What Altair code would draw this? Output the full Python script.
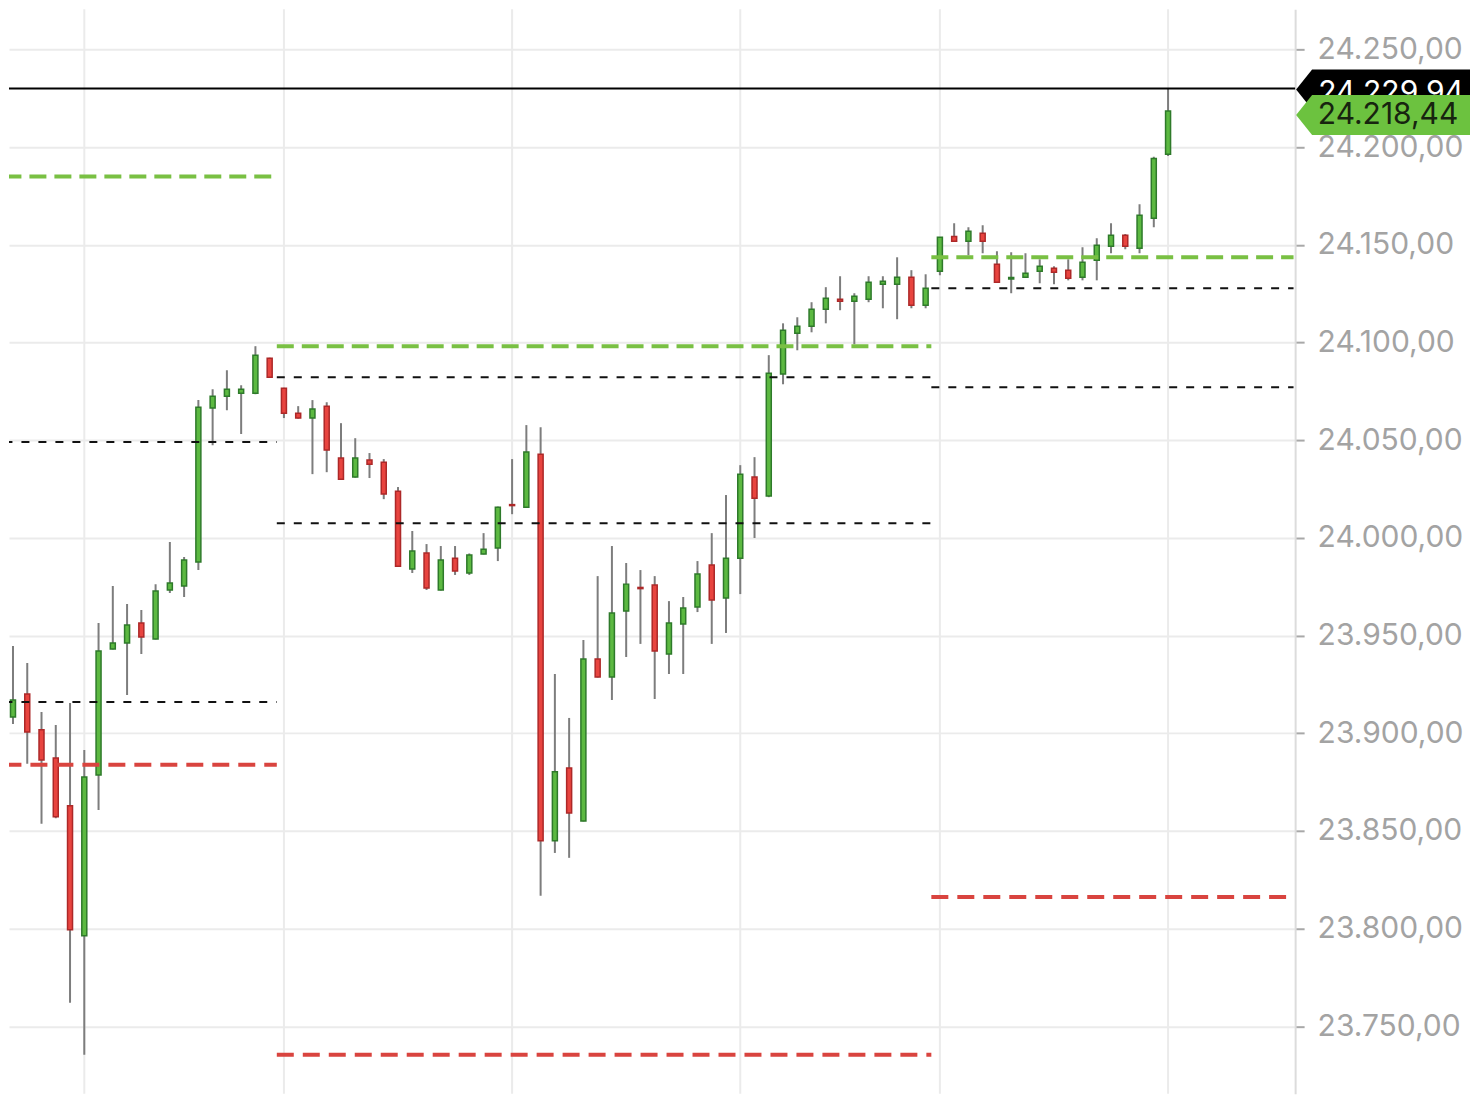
import altair as alt
import pandas as pd

# ---------------- data ----------------
candle_idx = list(range(-1, 82))
opens = [23896.5,
    23908.3, 23920.1, 23901.7, 23887.3, 23862.8, 23796.3, 23878.6, 23943.1, 23946.2, 23956.4,
    23948.2, 23973.3, 23975.3, 23987.6, 24066.4, 24072.5, 24074.0, 24074.0, 24091.9, 24076.6,
    24063.8, 24061.3, 24067.4, 24040.8, 24031.1, 24039.8, 24038.7, 24023.9, 23984.0, 23992.2,
    23973.3, 23989.6, 23982.0, 23991.7, 23994.8, 24017.0, 24015.7, 24042.8, 23844.9, 23882.2,
    23855.1, 23938.0, 23928.8, 23962.5, 23974.6, 23975.8, 23940.5, 23955.9, 23964.6, 23986.1,
    23969.2, 23989.6, 24031.1, 24021.4, 24083.8, 24104.7, 24108.3, 24117.0, 24122.1, 24121.1,
    24122.1, 24129.8, 24129.8, 24133.4, 24119.1, 24136.4, 24154.3, 24151.8, 24155.9, 24140.0,
    24132.5, 24133.4, 24136.4, 24138.0, 24137.0, 24133.4, 24142.1, 24149.2, 24154.9, 24148.2,
    24163.6, 24196.3]
highs = [23910.0,
    23944.6, 23935.9, 23910.9, 23904.2, 23915.5, 23891.4, 23956.4, 23975.3, 23966.1, 23963.0,
    23976.3, 23997.8, 23990.2, 24070.5, 24076.1, 24085.8, 24078.1, 24098.1, 24092.2, 24076.8,
    24067.4, 24070.5, 24069.4, 24058.7, 24051.0, 24043.4, 24040.3, 24026.0, 24003.5, 23996.8,
    23995.8, 23995.8, 23992.0, 24002.4, 24016.0, 24040.3, 24057.7, 24056.6, 23930.3, 23907.8,
    23947.7, 23980.4, 23995.8, 23987.1, 23983.5, 23980.4, 23967.6, 23969.7, 23988.1, 24002.4,
    24021.9, 24037.2, 24041.3, 24093.5, 24109.8, 24112.9, 24120.6, 24128.3, 24133.9, 24125.2,
    24133.9, 24133.9, 24143.6, 24137.0, 24134.9, 24154.0, 24161.0, 24159.0, 24160.0, 24146.7,
    24146.2, 24145.7, 24142.6, 24139.0, 24142.6, 24148.7, 24153.3, 24161.0, 24155.5, 24170.7,
    24195.0, 24229.94]
lows = [23895.0,
    23904.7, 23884.3, 23853.6, 23856.5, 23762.0, 23735.4, 23860.7, 23942.8, 23919.6, 23940.5,
    23948.0, 23971.7, 23969.7, 23983.5, 24047.4, 24065.3, 24053.1, 24073.5, 24081.8, 24061.3,
    24061.0, 24032.6, 24033.6, 24029.8, 24030.8, 24030.6, 24019.8, 23985.2, 23982.0, 23973.3,
    23973.0, 23981.0, 23981.0, 23991.5, 23988.1, 24012.1, 24015.3, 23816.8, 23838.7, 23836.2,
    23854.8, 23928.5, 23917.0, 23939.0, 23945.7, 23917.5, 23930.3, 23930.3, 23962.0, 23945.7,
    23951.3, 23971.2, 23999.9, 24020.8, 24078.6, 24096.0, 24105.2, 24109.8, 24116.5, 24099.1,
    24120.6, 24117.5, 24111.9, 24117.5, 24117.5, 24134.4, 24151.5, 24144.6, 24145.7, 24130.5,
    24125.2, 24133.0, 24130.3, 24129.8, 24131.8, 24131.8, 24131.8, 24145.7, 24147.7, 24145.7,
    24159.0, 24195.5]
closes = [23907.8,
    23917.0, 23900.6, 23886.3, 23857.2, 23799.4, 23877.6, 23942.1, 23946.2, 23955.4, 23949.2,
    23972.8, 23976.9, 23988.6, 24066.9, 24072.5, 24076.1, 24076.1, 24093.5, 24082.2, 24063.8,
    24061.3, 24065.9, 24044.9, 24030.0, 24040.8, 24037.7, 24022.4, 23985.5, 23993.2, 23974.3,
    23988.6, 23983.0, 23991.2, 23994.2, 24015.7, 24016.5, 24043.9, 23844.9, 23880.2, 23859.2,
    23938.0, 23928.8, 23961.5, 23976.3, 23974.0, 23942.1, 23956.4, 23964.1, 23981.5, 23968.2,
    23989.6, 24032.6, 24020.3, 24084.3, 24106.3, 24108.3, 24117.0, 24122.6, 24121.1, 24123.7,
    24130.8, 24131.3, 24133.4, 24119.1, 24127.7, 24153.8, 24151.8, 24156.9, 24151.8, 24130.8,
    24133.3, 24135.4, 24139.0, 24135.9, 24132.9, 24141.0, 24149.7, 24154.9, 24149.2, 24165.1,
    24194.2, 24218.44]

session_grid = [5, 19, 35, 51, 65, 81]
seg_start = [-0.6, 18.5, 64.4]
seg_end = [18.5, 64.4, 89.8]
green_levels = [24185.0, 24098.1, 24143.6]
black_upper = [24049.0, 24082.2, 24127.7]
black_lower = [23916.0, 24007.5, 24077.1]
red_levels = [23883.8, 23735.4, 23816.2]

high_mark = 24229.94
last_price = 24218.44
y_ticks = [23750, 23800, 23850, 23900, 23950, 24000, 24050, 24100, 24150, 24200, 24250]

FONT = "Inter"
FSIZE = 30


def de_fmt(v):
    s = f"{v:,.2f}"
    return s.replace(",", "_").replace(".", ",").replace("_", ".")


df = pd.DataFrame({"i": candle_idx, "open": opens, "high": highs,
                   "low": lows, "close": closes})
df["dir"] = ["up" if c >= o else "down" for o, c in zip(opens, closes)]

lv = pd.DataFrame({"x0": seg_start, "x1": seg_end, "g": green_levels,
                   "bh": black_upper, "bl": black_lower, "r": red_levels})

W, H = 1287, 1085
xscale = alt.Scale(domain=[-0.28, 89.91], nice=False, zero=False, padding=0)
yscale = alt.Scale(domain=[23715.5, 24270.5], nice=False, zero=False, padding=0)
yaxis = alt.Axis(
    orient="right", values=y_ticks, title=None,
    labelExpr="replace(replace(replace(format(datum.value, ',.2f'), ',', '_'), '.', ','), '_', '.')",
    grid=True, gridColor="#ebebeb", gridWidth=2,
    domain=True, domainColor="#dcdcdc", domainWidth=2,
    ticks=True, tickColor="#a8a8a8", tickSize=9, tickWidth=2,
    labelFont=FONT, labelFontSize=FSIZE, labelColor="#a3a3a3",
    labelPadding=13, labelBaseline="middle")


def X(f):
    return alt.X(f, scale=xscale, axis=None)


def Y(f):
    return alt.Y(f, scale=yscale, axis=yaxis)


vgrid = alt.Chart(pd.DataFrame({"d": session_grid})).mark_rule(
    color="#ebebeb", strokeWidth=2).encode(x=X("d:Q"))

wicks = alt.Chart(df).mark_rule(color="#7d7d7d", strokeWidth=2, clip=True).encode(
    x=X("i:Q"), y=Y("low:Q"), y2="high:Q")

bodies = alt.Chart(df).mark_bar(width=5, strokeWidth=1.5, clip=True).encode(
    x=X("i:Q"), y=Y("open:Q"), y2="close:Q",
    fill=alt.Fill("dir:N", scale=alt.Scale(domain=["up", "down"],
                                           range=["#5cb941", "#e8443f"]), legend=None),
    stroke=alt.Stroke("dir:N", scale=alt.Scale(domain=["up", "down"],
                                               range=["#2e7a2a", "#ad2828"]), legend=None))

lvbase = alt.Chart(lv)
green_l = lvbase.mark_rule(color="#79c043", strokeWidth=4, strokeDash=[17, 8], clip=True).encode(
    x=X("x0:Q"), x2="x1:Q", y=Y("g:Q"))
red_l = lvbase.mark_rule(color="#d9443f", strokeWidth=4, strokeDash=[17, 9], clip=True).encode(
    x=X("x0:Q"), x2="x1:Q", y=Y("r:Q"))
bh_l = lvbase.mark_rule(color="#111111", strokeWidth=2, strokeDash=[8, 9], clip=True).encode(
    x=X("x0:Q"), x2="x1:Q", y=Y("bh:Q"))
bl_l = lvbase.mark_rule(color="#111111", strokeWidth=2, strokeDash=[8, 9], clip=True).encode(
    x=X("x0:Q"), x2="x1:Q", y=Y("bl:Q"))

hi_df = pd.DataFrame({"p": [high_mark], "label": [de_fmt(high_mark)]})
last_df = pd.DataFrame({"p": [last_price], "label": [de_fmt(last_price)]})

hi_line = alt.Chart(hi_df).mark_rule(color="#000000", strokeWidth=2).encode(y=Y("p:Q"))

badge_path = "M-1,0L-0.816,-0.23L1,-0.23L1,0.23L-0.816,0.23Z"
hi_badge = alt.Chart(hi_df).mark_point(
    shape=badge_path, size=174 * 174, filled=True, color="#000000", opacity=1,
    strokeWidth=0, yOffset=1).encode(x=alt.value(1375), y=Y("p:Q"))
hi_text = alt.Chart(hi_df).mark_text(
    font=FONT, fontSize=FSIZE, color="#ffffff", align="center", baseline="middle",
    dy=4).encode(x=alt.value(1383), y=Y("p:Q"), text="label:N")
last_badge = alt.Chart(last_df).mark_point(
    shape=badge_path, size=174 * 174, filled=True, color="#6cc23f", opacity=1,
    strokeWidth=0, yOffset=4).encode(x=alt.value(1375), y=Y("p:Q"))
last_text = alt.Chart(last_df).mark_text(
    font=FONT, fontSize=FSIZE, color="#17240f", align="center", baseline="middle",
    dy=4).encode(x=alt.value(1380), y=Y("p:Q"), text="label:N")

chart = alt.layer(
    vgrid, wicks, bodies, green_l, red_l, bh_l, bl_l, hi_line,
    hi_badge, hi_text, last_badge, last_text
).properties(width=W, height=H, padding=0, background="#ffffff"
).configure_view(stroke=None)

chart.save("out.html", embed_options={"renderer": "svg", "actions": False})
